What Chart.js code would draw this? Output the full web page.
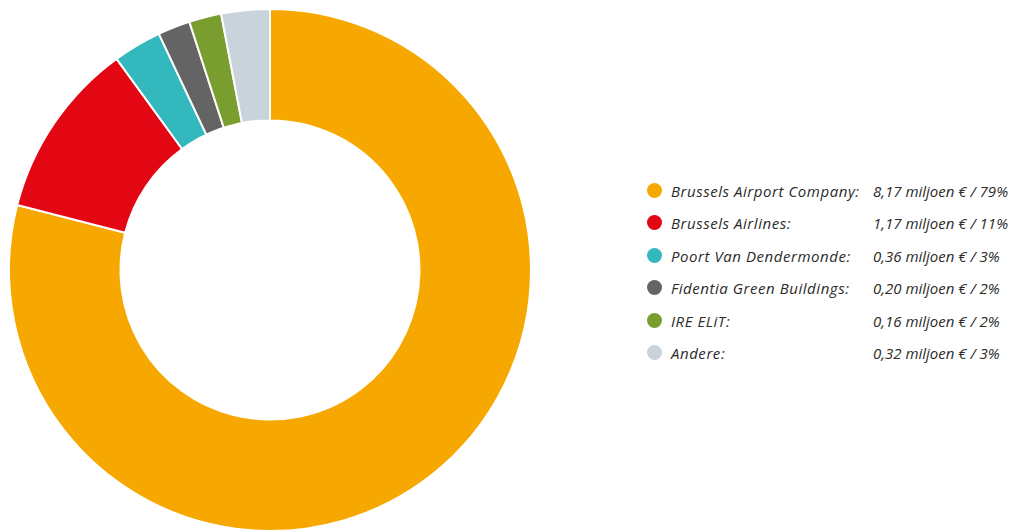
<!DOCTYPE html>
<html>
<head>
<meta charset="utf-8">
<script src="https://cdn.jsdelivr.net/npm/chart.js@4"></script>
<style>
  html, body { margin: 0; padding: 0; background: #fff; overflow: hidden; }
  body { width: 1019px; height: 532px; position: relative; font-family: "Open Sans", sans-serif; }
  #wrap { position: absolute; left: 0; top: 0; width: 540px; height: 540px; }
  #legend { position: absolute; left: 647px; top: 175px; font-style: italic; font-size: 15px; color: #2b2b2b; }
  .row { position: relative; height: 32.4px; line-height: 32px; white-space: nowrap; }
  .dot { position: absolute; left: 0; top: 8px; width: 15px; height: 15px; border-radius: 50%; }
  .lab { position: absolute; left: 24px; letter-spacing: 0.55px; }
  .val { position: absolute; left: 226px; }
</style>
</head>
<body>
<div id="wrap"><canvas id="donut" width="540" height="540"></canvas></div>
<div id="legend"></div>
<script>
// categorieen, bedragen (miljoen euro) en aandelen (%)
const labels = ['Brussels Airport Company', 'Brussels Airlines', 'Poort Van Dendermonde', 'Fidentia Green Buildings', 'IRE ELiT', 'Andere']
const values = [8.17, 1.17, 0.36, 0.20, 0.16, 0.32]
const percents = [79, 11, 3, 2, 2, 3]
const colors = ['#f6a800', '#e30613', '#33b8bd', '#646464', '#7a9d2f', '#c9d3dc']

// legenda opbouwen
let legend = document.getElementById('legend')
labels.forEach((l, i) => {
  let row = document.createElement('div')
  row.className = 'row'
  row.innerHTML = `<span class="dot" style="background:${colors[i]}"></span>` +
    `<span class="lab">${l}:</span>` +
    `<span class="val">${values[i].toFixed(2).replace('.', ',')} miljoen € / ${percents[i]}%</span>`
  legend.appendChild(row)
})

// de ring is getekend met de afgeronde percentages
var ctx = document.getElementById('donut').getContext('2d')
new Chart(ctx, {
  type: 'doughnut',
  data: {
    labels: labels,
    datasets: [{
      data: percents,
      backgroundColor: colors,
      borderColor: '#ffffff',
      borderWidth: 2
    }]
  },
  options: {
    responsive: false,
    animation: false,
    radius: 261,
    cutout: '57.3%',
    plugins: { legend: { display: false }, tooltip: { enabled: false } }
  }
})
</script>
</body>
</html>
